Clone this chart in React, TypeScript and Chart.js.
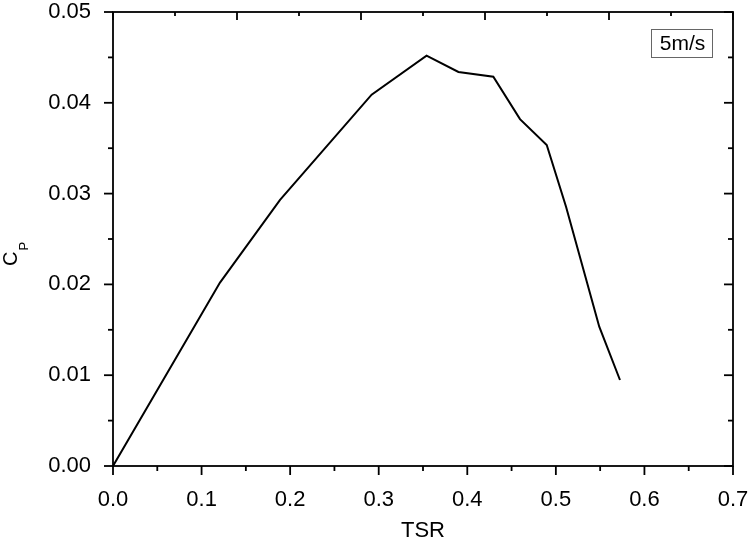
import React, { useEffect, useRef } from "react";
import { Chart, registerables } from "chart.js";

Chart.register(...registerables);

// ---- data ----
const tsr = [0, 0.1208, 0.1886, 0.292, 0.354, 0.39, 0.4294, 0.4595, 0.4897, 0.5115, 0.549, 0.5724];
const cp = [0, 0.0202, 0.0293, 0.0409, 0.0452, 0.0434, 0.04287, 0.0382, 0.03535, 0.02856, 0.01534, 0.00947];

const xMin = 0;
const xMax = 0.7;
const xStep = 0.1;
const yMin = 0;
const yMax = 0.05;
const yStep = 0.01;
const topStep = 0.07; // Origin's top axis tick spacing (long every other)

const legendLabel = "5m/s";
const xTitle = "TSR";
const yTitleMain = "C";
const yTitleSub = "P";

const FONT = "Liberation Sans, Arial, sans-serif";
const FS = 22;

const framePlugin = {
  id: "originFrame",
  afterDraw(chart: any) {
    const { ctx, chartArea } = chart;
    const { left, right, top, bottom } = chartArea;
    const xs = chart.scales.x;
    const ys = chart.scales.y;
    ctx.save();
    ctx.strokeStyle = "#000";
    ctx.lineWidth = 1.8;
    ctx.lineCap = "butt";
    ctx.strokeRect(left, top, right - left, bottom - top);

    const line = (x1: number, y1: number, x2: number, y2: number) => {
      ctx.beginPath();
      ctx.moveTo(x1, y1);
      ctx.lineTo(x2, y2);
      ctx.stroke();
    };

    // bottom ticks (outward)
    const nx = Math.round((xMax - xMin) / (xStep / 2));
    for (let i = 0; i <= nx; i++) {
      const v = xMin + (i * xStep) / 2;
      const px = xs.getPixelForValue(v);
      line(px, bottom, px, bottom + (i % 2 === 0 ? 9 : 5));
    }
    // top ticks (inward)
    const nt = Math.round((xMax - xMin) / topStep);
    for (let i = 0; i <= nt; i++) {
      const v = xMin + i * topStep;
      const px = xs.getPixelForValue(v);
      line(px, top, px, top + (i % 2 === 0 ? 8 : 4));
    }
    // left ticks (outward) and right ticks (inward)
    const ny = Math.round((yMax - yMin) / (yStep / 2));
    for (let i = 0; i <= ny; i++) {
      const v = yMin + (i * yStep) / 2;
      const py = ys.getPixelForValue(v);
      const len = i % 2 === 0 ? 9 : 5;
      line(left - len, py, left, py);
      line(right - len, py, right, py);
    }

    // legend box
    ctx.font = `21px ${FONT}`;
    ctx.textBaseline = "middle";
    ctx.textAlign = "center";
    const bx = 651;
    const by = 29;
    const bw = 61;
    const bh = 28;
    ctx.lineWidth = 1;
    ctx.strokeStyle = "#666";
    ctx.strokeRect(bx + 0.5, by + 0.5, bw, bh);
    ctx.fillStyle = "#000";
    ctx.fillText(legendLabel, bx + bw / 2 + 1, by + bh / 2 + 1.5);

    // x title
    ctx.font = `${FS}px ${FONT}`;
    ctx.textAlign = "center";
    ctx.fillText(xTitle, (left + right) / 2, 531);

    // y title with subscript
    ctx.save();
    ctx.translate(16.5, 266);
    ctx.rotate(-Math.PI / 2);
    ctx.textAlign = "left";
    ctx.textBaseline = "alphabetic";
    ctx.font = `20px ${FONT}`;
    const cw = ctx.measureText(yTitleMain).width;
    ctx.fillText(yTitleMain, 0, 0);
    ctx.font = `13px ${FONT}`;
    ctx.fillText(yTitleSub, cw + 1, 11);
    ctx.restore();

    ctx.restore();
  },
};

export default function App() {
  const ref = useRef<HTMLCanvasElement | null>(null);

  useEffect(() => {
    if (!ref.current) return;
    const chart = new Chart(ref.current, {
      type: "scatter",
      data: {
        datasets: [
          {
            label: legendLabel,
            data: tsr.map((x, i) => ({ x, y: cp[i] })),
            showLine: true,
            borderColor: "#000",
            borderWidth: 2,
            pointRadius: 0,
            fill: false,
            tension: 0,
          },
        ],
      },
      options: {
        animation: false,
        responsive: false,
        devicePixelRatio: 1,
        layout: { padding: { top: 12, right: 17, left: 0, bottom: 0 } },
        plugins: {
          legend: { display: false },
          tooltip: { enabled: false },
        },
        scales: {
          x: {
            type: "linear",
            min: xMin,
            max: xMax,
            grid: { display: false, drawTicks: false },
            border: { display: false },
            ticks: {
              stepSize: xStep,
              color: "#000",
              font: { family: FONT, size: FS },
              padding: 21,
              maxRotation: 0,
              callback: (v: any) => Number(v).toFixed(1),
            },
            afterFit: (s: any) => {
              s.height = 81;
              s.paddingLeft = 0;
              s.paddingRight = 0;
            },
          },
          y: {
            type: "linear",
            min: yMin,
            max: yMax,
            grid: { display: false, drawTicks: false },
            border: { display: false },
            ticks: {
              stepSize: yStep,
              color: "#000",
              font: { family: FONT, size: FS },
              padding: 22,
              callback: (v: any) => Number(v).toFixed(2),
            },
            afterFit: (s: any) => {
              s.width = 113;
              s.paddingTop = 0;
              s.paddingBottom = 0;
            },
          },
        },
      },
      plugins: [framePlugin],
    } as any);
    return () => chart.destroy();
  }, []);

  return (
    <div style={{ position: "fixed", left: 0, top: 0, width: 750, height: 547, background: "#fff" }}>
      <canvas ref={ref} width={750} height={547} style={{ display: "block" }} />
    </div>
  );
}
